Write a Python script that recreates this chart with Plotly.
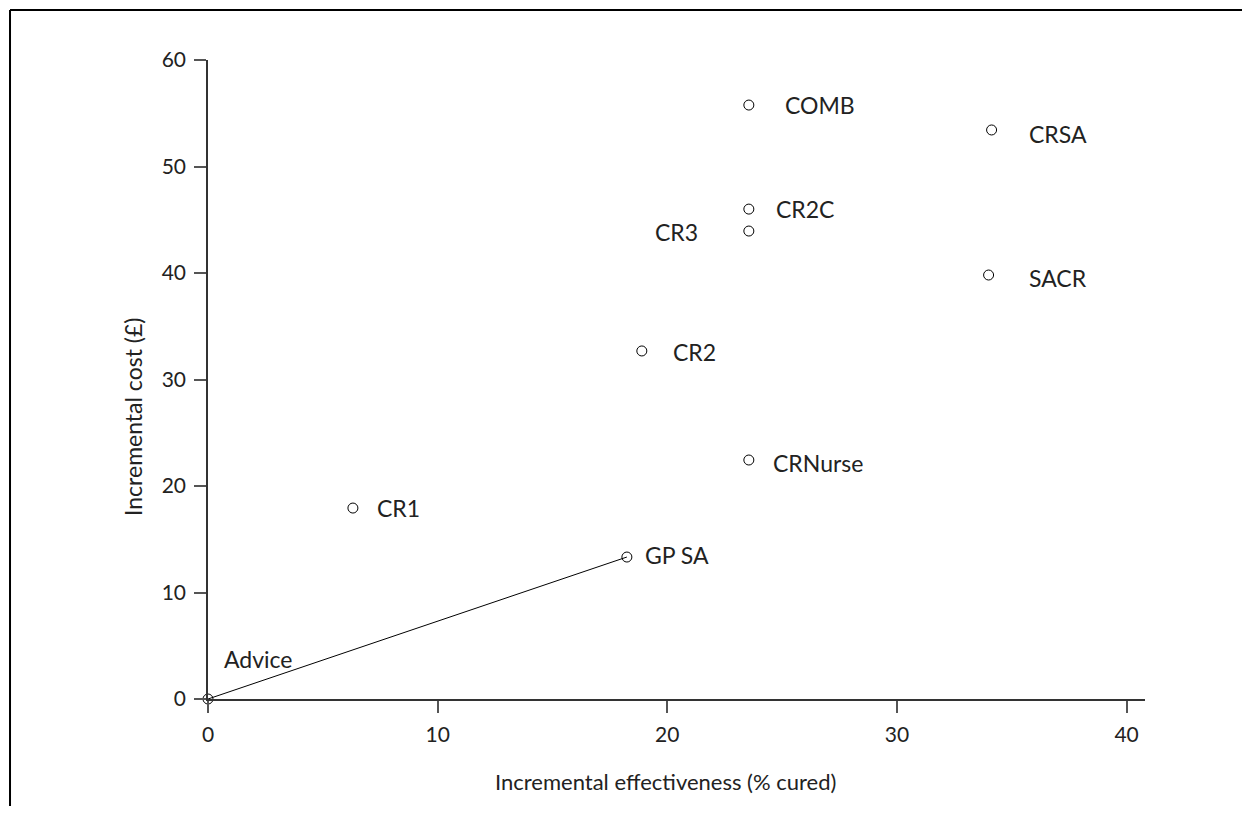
import plotly.graph_objects as go

# Data
labels = ["Advice", "GP SA", "CR1", "CR2", "CRNurse", "CR3", "CR2C", "COMB", "CRSA", "SACR"]
effectiveness = [0, 18.24, 6.31, 18.89, 23.55, 23.55, 23.55, 23.55, 34.12, 33.99]
cost = [0, 13.33, 17.93, 32.68, 22.44, 43.94, 46.0, 55.77, 53.43, 39.81]
frontier_x = [0, 18.24]
frontier_y = [0, 13.33]

x_ticks = [0, 10, 20, 30, 40]
y_ticks = [0, 10, 20, 30, 40, 50, 60]

x_title = "Incremental effectiveness (% cured)"
y_title = "Incremental cost (£)"

FONT = "Lato"
TXT = "#222"

fig = go.Figure()
fig.add_trace(go.Scatter(x=frontier_x, y=frontier_y, mode="lines",
                         line=dict(color="black", width=1), cliponaxis=False,
                         hoverinfo="skip", showlegend=False))
fig.add_trace(go.Scatter(x=effectiveness, y=cost, mode="markers",
                         marker=dict(symbol="circle-open", size=10,
                                     color="black", line=dict(width=1)),
                         cliponaxis=False, showlegend=False))

# Label offsets in pixels (dx, dy, anchor)
offsets = {
    "Advice": (14, 40, "left"),
    "GP SA": (16, 2, "left"),
    "CR1": (22, 0, "left"),
    "CR2": (29, -1, "left"),
    "CRNurse": (22, -3, "left"),
    "CR3": (-49, -1, "right"),
    "CR2C": (25, 0, "left"),
    "COMB": (34, 0, "left"),
    "CRSA": (35, -4, "left"),
    "SACR": (38, -3, "left"),
}
for lab, xv, yv in zip(labels, effectiveness, cost):
    dx, dy, anc = offsets[lab]
    fig.add_annotation(x=xv, y=yv, text=lab, showarrow=False, xanchor=anc,
                       yanchor="middle", xshift=dx, yshift=dy,
                       font=dict(family=FONT, size=23, color=TXT))

# Axis titles
fig.add_annotation(xref="paper", yref="paper", x=(665 - 208) / 937, y=(699 - 781) / 639,
                   text=x_title, showarrow=False, xanchor="center", yanchor="middle",
                   font=dict(family=FONT, size=22, color=TXT))
fig.add_annotation(xref="paper", yref="paper", x=(133 - 208) / 937, y=(699 - 417) / 639,
                   text=y_title, showarrow=False, xanchor="center", yanchor="middle",
                   textangle=-90, font=dict(family=FONT, size=23, color=TXT))

# Frame (top and left lines)
fig.add_shape(type="line", xref="paper", yref="paper", x0=-0.2113, x1=1.12,
              y0=1.0782, y1=1.0782, line=dict(color="black", width=2))
fig.add_shape(type="line", xref="paper", yref="paper", x0=-0.2113, x1=-0.2113,
              y0=1.0782, y1=-0.2, line=dict(color="black", width=2))

fig.update_layout(
    width=1234, height=798,
    margin=dict(l=200, r=97, t=52, b=107),
    paper_bgcolor="white", plot_bgcolor="white",
    font=dict(family=FONT, size=20, color=TXT),
    xaxis=dict(range=[0, 40.8], tickvals=x_ticks, showgrid=False, zeroline=False,
               showline=True, linecolor="#333", linewidth=1.5,
               ticks="outside", ticklen=12, tickwidth=1.5, tickcolor="#555",
               ticklabelstandoff=4, tickfont=dict(size=21)),
    yaxis=dict(range=[0, 60], tickvals=y_ticks, showgrid=False, zeroline=False,
               showline=True, linecolor="#333", linewidth=1.5,
               ticks="outside", ticklen=12, tickwidth=1.5, tickcolor="#555",
               ticklabelstandoff=4, tickfont=dict(size=21)),
)

fig.write_html("out.html")
